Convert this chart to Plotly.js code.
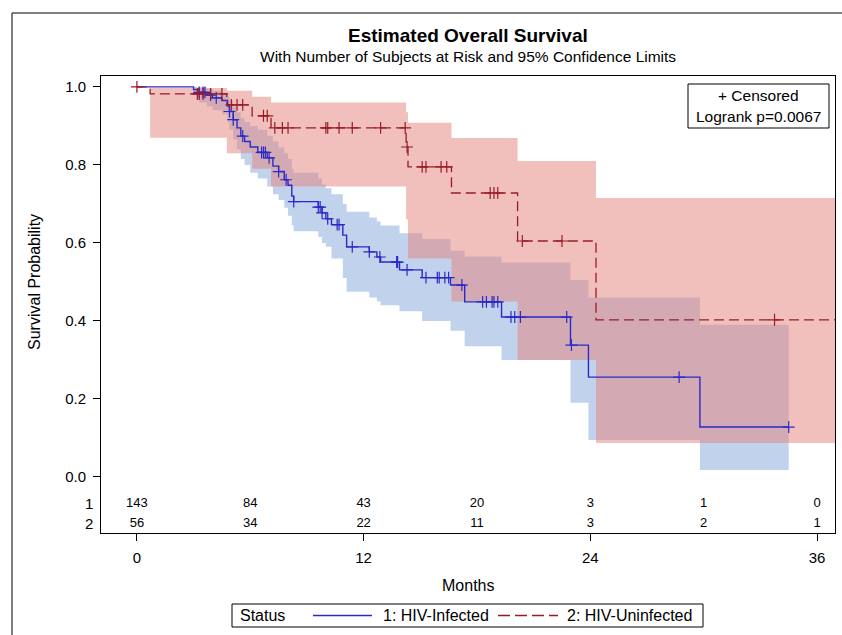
<!DOCTYPE html>
<html>
<head>
<meta charset="utf-8">
<script src="https://cdn.plot.ly/plotly-3.0.1.min.js"></script>
<style>
  html, body { margin: 0; padding: 0; background: #fff; }
  #chart { width: 842px; height: 635px; }
</style>
</head>
<body>
<div id="chart"></div>
<script>
// ---- Data ----
// Group 1: HIV-Infected
const blueTimes = [0, 3.0, 3.3, 3.7, 4.0, 4.5, 4.8, 4.9, 5.1, 5.3, 5.5, 5.7, 6.0, 6.4, 6.9, 7.2, 7.5, 7.8, 8.0, 8.2,
                   8.3, 9.6, 9.8, 10.0, 10.3, 10.9, 11.1, 12.3, 12.7, 12.9, 13.9, 15.1, 16.6, 17.35, 19.3, 22.95, 23.9, 29.8];
const blueSurv  = [1, .993, .986, .979, .972, .965, .951, .937, .916, .895, .874, .860, .846, .832, .818, .797, .783, .762, .748, .72,
                   .706, .692, .677, .662, .647, .62, .59, .577, .564, .551, .531, .511, .492, .449, .41, .338, .256, .128];
const blueLower = [1, .98, .96, .95, .94, .93, .91, .89, .865, .84, .815, .80, .78, .765, .745, .725, .71, .69, .67, .645,
                   .63, .615, .60, .59, .56, .51, .475, .46, .45, .44, .425, .40, .375, .335, .30, .19, .095, .018];
const blueUpper = [1, 1, 1, .995, .99, .985, .975, .965, .95, .935, .92, .91, .90, .89, .875, .86, .845, .83, .815, .79,
                   .78, .765, .75, .74, .725, .70, .68, .665, .655, .645, .625, .61, .58, .565, .55, .505, .46, .39];
const blueEnd = 34.5;
const blueCensored = [3.3, 3.5, 3.6, 3.9, 4.2, 4.9, 5.1, 5.6, 6.6, 6.7, 6.8, 7.0, 7.5, 7.9, 8.3, 9.6, 9.7, 9.8, 10.1, 10.6, 10.7,
                      11.4, 12.3, 12.86, 13.75, 13.8, 14.3, 15.3, 15.9, 16.0, 16.3, 16.5, 17.2, 18.3, 18.5, 18.8, 18.9, 19.1,
                      19.8, 20.0, 20.3, 22.75, 23.0, 28.7, 34.5];

// Group 2: HIV-Uninfected
const redTimes = [0, 0.7, 4.76, 6.1, 7.1, 14.25, 14.35, 16.65, 20.15, 24.3];
const redSurv  = [1, .982, .954, .926, .895, .846, .795, .728, .605, .403];
const redLower = [1, .87, .83, .79, .745, .66, .56, .45, .30, .087];
const redUpper = [1, .997, .99, .975, .96, .935, .908, .869, .81, .715];
const redEnd = 37;
const redCensored = [0, 3.2, 3.3, 3.5, 3.9, 4.5, 5.0, 5.3, 5.6, 6.7, 6.9, 7.3, 7.7, 8.0, 10.0, 10.1, 10.7, 11.4, 12.9, 14.2, 14.3,
                     15.1, 15.3, 16.1, 16.4, 18.7, 18.9, 19.1, 20.4, 22.5, 33.75];

// Number at risk
const riskTimes = [0, 6, 12, 18, 24, 30, 36];
const riskBlue  = [143, 84, 43, 20, 3, 1, 0];
const riskRed   = [56, 34, 22, 11, 3, 2, 1];
const groupLabels = ['1', '2'];

const xTicks = [0, 12, 24, 36];
const yTicks = [0, 0.2, 0.4, 0.6, 0.8, 1.0];
const yTickText = ['0.0', '0.2', '0.4', '0.6', '0.8', '1.0'];

// ---- Styling ----
const BLUE = '#2a2ac8';
const RED = '#981c26';
const BLUE_FILL = 'rgba(117,155,215,0.45)';
const RED_FILL = 'rgba(229,129,121,0.5)';
const FONT = 'Liberation Sans, Arial, sans-serif';

// geometry helpers (pixel -> paper)
const L = 101, R = 835, T = 76, B = 533;
const W = R - L, H = B - T;
const xp = px => (px - L) / W;
const yp = py => (B - py) / H;

function stepVal(times, vals, t) {
  let v = vals[0];
  for (let i = 0; i < times.length; i++) if (times[i] <= t) v = vals[i];
  return v;
}
function ext(arr, endVal) { return arr.concat([endVal]); }

const traces = [];
// blue band
traces.push({x: ext(blueTimes, blueEnd), y: ext(blueLower, blueLower[blueLower.length-1]), mode: 'lines',
  line: {shape: 'hv', width: 0}, hoverinfo: 'skip', showlegend: false});
traces.push({x: ext(blueTimes, blueEnd), y: ext(blueUpper, blueUpper[blueUpper.length-1]), mode: 'lines',
  line: {shape: 'hv', width: 0}, fill: 'tonexty', fillcolor: BLUE_FILL, hoverinfo: 'skip', showlegend: false});
// red band
traces.push({x: ext(redTimes, redEnd), y: ext(redLower, redLower[redLower.length-1]), mode: 'lines',
  line: {shape: 'hv', width: 0}, hoverinfo: 'skip', showlegend: false});
traces.push({x: ext(redTimes, redEnd), y: ext(redUpper, redUpper[redUpper.length-1]), mode: 'lines',
  line: {shape: 'hv', width: 0}, fill: 'tonexty', fillcolor: RED_FILL, hoverinfo: 'skip', showlegend: false});
// curves
traces.push({x: ext(blueTimes, blueEnd), y: ext(blueSurv, blueSurv[blueSurv.length-1]), mode: 'lines',
  line: {shape: 'hv', width: 1.4, color: BLUE}, name: '1: HIV-Infected', showlegend: false});
traces.push({x: ext(redTimes, redEnd), y: ext(redSurv, redSurv[redSurv.length-1]), mode: 'lines',
  line: {shape: 'hv', width: 1.3, color: RED, dash: '10px,5px'}, name: '2: HIV-Uninfected', showlegend: false});
// censored marks
traces.push({x: blueCensored, y: blueCensored.map(t => stepVal(blueTimes, blueSurv, t)), mode: 'markers',
  marker: {symbol: 'cross-thin', size: 8.5, line: {width: 1.2, color: BLUE}, color: BLUE}, showlegend: false, hoverinfo: 'skip'});
traces.push({x: redCensored, y: redCensored.map(t => stepVal(redTimes, redSurv, t)), mode: 'markers',
  marker: {symbol: 'cross-thin', size: 8.5, line: {width: 1.2, color: RED}, color: RED}, showlegend: false, hoverinfo: 'skip'});
// at-risk table
const rowY = [-0.069, -0.1205];
[riskBlue, riskRed].forEach((vals, k) => {
  traces.push({x: riskTimes, y: riskTimes.map(() => rowY[k]), mode: 'text', text: vals.map(String),
    textfont: {family: FONT, size: 13, color: '#000'}, textposition: 'middle center', showlegend: false, hoverinfo: 'skip'});
});

const annotations = [
  {text: '<b>Estimated Overall Survival</b>', xref: 'paper', yref: 'paper', x: xp(468), y: yp(36),
   showarrow: false, font: {family: FONT, size: 19, color: '#000'}, xanchor: 'center', yanchor: 'middle'},
  {text: 'With Number of Subjects at Risk and 95% Confidence Limits', xref: 'paper', yref: 'paper', x: xp(468), y: yp(57),
   showarrow: false, font: {family: FONT, size: 15.5, color: '#000'}, xanchor: 'center', yanchor: 'middle'},
  {text: 'Survival Probability', xref: 'paper', yref: 'y', x: xp(35), y: 0.5, textangle: -90,
   showarrow: false, font: {family: FONT, size: 16, color: '#000'}, xanchor: 'center', yanchor: 'middle'},
  {text: 'Months', xref: 'paper', yref: 'paper', x: xp(468), y: yp(585),
   showarrow: false, font: {family: FONT, size: 16, color: '#000'}, xanchor: 'center', yanchor: 'middle'},
  {text: '+ Censored', xref: 'paper', yref: 'paper', x: xp(758), y: yp(95),
   showarrow: false, font: {family: FONT, size: 15.5, color: '#000'}, xanchor: 'center', yanchor: 'middle'},
  {text: 'Logrank p=0.0067', xref: 'paper', yref: 'paper', x: xp(758), y: yp(116),
   showarrow: false, font: {family: FONT, size: 15.5, color: '#000'}, xanchor: 'center', yanchor: 'middle'},
  {text: 'Status', xref: 'paper', yref: 'paper', x: xp(238), y: yp(615),
   showarrow: false, font: {family: FONT, size: 16, color: '#000'}, xanchor: 'left', yanchor: 'middle'},
  {text: '1: HIV-Infected', xref: 'paper', yref: 'paper', x: xp(381), y: yp(615),
   showarrow: false, font: {family: FONT, size: 16, color: '#000'}, xanchor: 'left', yanchor: 'middle'},
  {text: '2: HIV-Uninfected', xref: 'paper', yref: 'paper', x: xp(565), y: yp(615),
   showarrow: false, font: {family: FONT, size: 16, color: '#000'}, xanchor: 'left', yanchor: 'middle'}
];
groupLabels.forEach((g, k) => annotations.push({text: g, xref: 'paper', yref: 'y', x: xp(95), y: rowY[k],
  showarrow: false, font: {family: FONT, size: 15, color: '#000'}, xanchor: 'right', yanchor: 'middle'}));

const shapes = [
  // outer frame
  {type: 'rect', xref: 'paper', yref: 'paper', x0: xp(12), x1: xp(860), y0: yp(13), y1: yp(660),
   line: {color: '#000', width: 1}},
  // inset legend box
  {type: 'rect', xref: 'paper', yref: 'paper', x0: xp(688), x1: xp(829), y0: yp(84), y1: yp(128),
   line: {color: '#000', width: 1}, fillcolor: 'rgba(0,0,0,0)'},
  // bottom legend box
  {type: 'rect', xref: 'paper', yref: 'paper', x0: xp(232), x1: xp(703), y0: yp(604), y1: yp(627),
   line: {color: '#000', width: 1}},
  {type: 'line', xref: 'paper', yref: 'paper', x0: xp(313), x1: xp(372), y0: yp(615.5), y1: yp(615.5),
   line: {color: BLUE, width: 1.4}},
  {type: 'line', xref: 'paper', yref: 'paper', x0: xp(498), x1: xp(558), y0: yp(615.5), y1: yp(615.5),
   line: {color: RED, width: 1.3, dash: '12px,5px'}}
];

const layout = {
  width: 842, height: 635,
  margin: {l: L, r: 842 - R, t: T, b: 635 - B, pad: 0},
  paper_bgcolor: '#fff', plot_bgcolor: '#fff',
  showlegend: false,
  font: {family: FONT, color: '#000'},
  xaxis: {range: [-1.9, 36.95], tickvals: xTicks, ticks: 'outside', ticklen: 7, tickcolor: '#000',
    showline: true, mirror: true, linecolor: '#000', linewidth: 1, showgrid: false, zeroline: false,
    tickfont: {family: FONT, size: 15, color: '#000'}, ticklabelstandoff: 4},
  yaxis: {range: [-0.1436, 1.028], tickvals: yTicks, ticktext: yTickText, ticks: 'outside', ticklen: 7, tickcolor: '#000',
    showline: true, mirror: true, linecolor: '#000', linewidth: 1, showgrid: false, zeroline: false,
    tickfont: {family: FONT, size: 15, color: '#000'}, ticklabelstandoff: 4},
  annotations: annotations,
  shapes: shapes
};

Plotly.newPlot('chart', traces, layout, {staticPlot: true, displayModeBar: false});
</script>
</body>
</html>
